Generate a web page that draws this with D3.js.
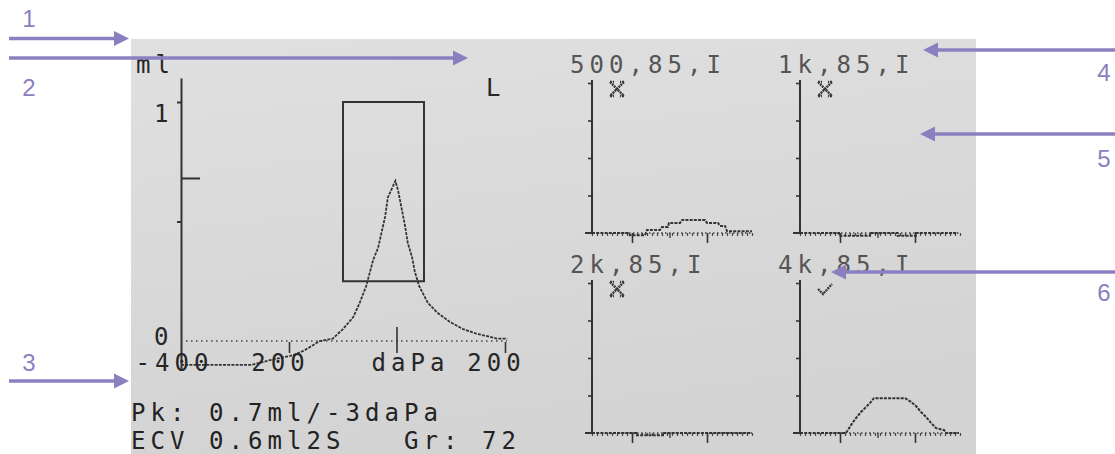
<!DOCTYPE html>
<html lang="en">
<head>
<meta charset="UTF-8" />
<title>Tympanogram and reflex screen</title>
<script src="https://cdn.jsdelivr.net/npm/d3@7"></script>
<style>
  body { margin: 0; background: #fff; }
  .lcd { font-family: "DejaVu Sans Mono", monospace; font-size: 24px; letter-spacing: 5.05px; white-space: pre; }
  .note { font-family: "Liberation Sans", Arial, sans-serif; font-size: 24px; fill: #8a80c0; }
</style>
</head>
<body>
<div id="screen"></div>
<script>
// tympanogram: pressure (daPa) / compliance (ml)
const pressure = [-400, -270, -235, -193, -172, -143, -119, -100, -81, -69, -57, -50, -44, -35, -28, -22, -17, -7, -3,
  2, 9, 15, 20, 28, 33, 41, 57, 74, 98, 122, 148, 167, 185, 204];
const compliance = [-0.1, -0.1, -0.08, -0.06, -0.04, 0.0, 0.01, 0.05, 0.1, 0.16, 0.23, 0.29, 0.34, 0.39, 0.46, 0.52, 0.6, 0.65, 0.67,
  0.63, 0.55, 0.48, 0.41, 0.35, 0.29, 0.23, 0.16, 0.12, 0.08, 0.05, 0.03, 0.02, 0.01, 0.01];
const xTicks = [-400, -200, 0, 200];
const xTickLabels = ["-400", "200", "daPa", "200"];
const yTicks = [0, 1];
const yTickLabels = ["0", "1"];
const boxPressure = [-100, 50];
const boxCompliance = [0.25, 1];
const peakMark = 0.68;
const results = ["Pk: 0.7ml/-3daPa", "ECV 0.6ml2S   Gr: 72"];

// reflex panels
const reflexTitles = ["500,85,I", "1k,85,I", "2k,85,I", "4k,85,I"];
const reflexPass = [false, false, false, true];
const t500 = [0, 7.4, 7.6, 10.6, 11, 13.6, 14, 15.2, 15.4, 17.6, 18, 22.6, 23, 25.2, 25.6, 26.6, 27, 32];
const v500 = [0, 0, -0.06, -0.06, 0.08, 0.08, 0.16, 0.16, 0.27, 0.27, 0.35, 0.35, 0.27, 0.27, 0.19, 0.19, 0.05, 0.05];
const t1k = [0, 7.8, 7.8, 14, 14, 19.5, 19.5, 23.2, 23.2, 31.5];
const v1k = [0, 0, -0.07, -0.07, 0, 0, -0.07, -0.07, 0, 0];
const t2k = [0, 9, 9, 14.2, 14.2, 32];
const v2k = [0, 0, -0.06, -0.06, 0, 0];
const t4k = [0, 9.2, 10.2, 11.2, 12.2, 13.2, 14.2, 14.8, 21, 22.2, 23.2, 24.2, 25.2, 26.2, 27.2, 28.8, 29.2, 31.8];
const v4k = [0, 0, 0.21, 0.4, 0.56, 0.69, 0.83, 0.93, 0.93, 0.83, 0.72, 0.56, 0.43, 0.27, 0.13, 0.08, 0, 0];
const reflexTimes = [t500, t1k, t2k, t4k];
const reflexValues = [v500, v1k, v2k, v4k];
const rulerTicks = d3.range(0, 33);
const stimulusTicks = [8, 23];

const ink = "#333";

const svg = d3.select("#screen")
  .append("svg")
  .attr("width", 1115)
  .attr("height", 454);

// screen background
const grad = svg.append("defs").append("linearGradient")
  .attr("id", "lcd").attr("x1", 0).attr("y1", 0).attr("x2", 0.25).attr("y2", 1);
grad.append("stop").attr("offset", "0%").attr("stop-color", "#e0e0e0");
grad.append("stop").attr("offset", "100%").attr("stop-color", "#d3d3d3");
svg.append("rect")
  .attr("x", 131).attr("y", 39)
  .attr("width", 845).attr("height", 415)
  .attr("fill", "url(#lcd)");

// ---- tympanogram ----
const x = d3.scaleLinear().domain([-400, 200]).range([181, 505]);
const y = d3.scaleLinear().domain([0, 1]).range([341, 102]);
const tymp = svg.append("g");

// y axis
const yAxisScale = y.copy().domain([-0.115, 1.1]).range([y(-0.115), y(1.1)]);
tymp.append("g")
  .attr("transform", `translate(${x(-400)},0)`)
  .call(d3.axisLeft(yAxisScale).tickValues([0.5, 1]).tickSize(4).tickSizeOuter(0).tickFormat(""))
  .call(g => g.selectAll("path,line").attr("stroke", ink).attr("stroke-width", 2));
tymp.append("line")
  .attr("x1", x(-400)).attr("x2", x(-400) + 19)
  .attr("y1", y(peakMark)).attr("y2", y(peakMark))
  .attr("stroke", ink).attr("stroke-width", 2);

// zero line (dotted)
tymp.append("line")
  .attr("x1", x(-400)).attr("x2", x(200) + 2)
  .attr("y1", y(0)).attr("y2", y(0))
  .attr("stroke", "#444").attr("stroke-width", 1.5)
  .attr("stroke-dasharray", "1.5,3.5");

// x ticks
tymp.append("g")
  .attr("transform", `translate(0,${y(0) + 1})`)
  .call(d3.axisBottom(x).tickValues([-200, 200]).tickSize(11).tickFormat(""))
  .call(g => g.select(".domain").remove())
  .call(g => g.selectAll("line").attr("stroke", ink).attr("stroke-width", 1.6));
tymp.append("line")
  .attr("x1", x(0)).attr("x2", x(0))
  .attr("y1", y(0) - 14).attr("y2", y(0) + 12)
  .attr("stroke", ink).attr("stroke-width", 1.6);

// normal range box
tymp.append("rect")
  .attr("x", x(boxPressure[0])).attr("y", y(boxCompliance[1]))
  .attr("width", x(boxPressure[1]) - x(boxPressure[0]))
  .attr("height", y(boxCompliance[0]) - y(boxCompliance[1]))
  .attr("fill", "none").attr("stroke", ink).attr("stroke-width", 2);

// curve
const tympLine = d3.line().x(d => x(d[0])).y(d => y(d[1]));
tymp.append("path")
  .datum(pressure.map((p, i) => [p, compliance[i]]))
  .attr("d", tympLine)
  .attr("fill", "none").attr("stroke", ink).attr("stroke-width", 1.8)
  .attr("stroke-dasharray", "3,1.2");

// labels
const labelShift = [-9, -11, 11, -11];
tymp.selectAll(".xlab")
  .data(xTicks)
  .join("text")
  .attr("class", "lcd")
  .attr("x", (d, i) => x(d) + labelShift[i] + 2.5)
  .attr("y", 371)
  .attr("text-anchor", "middle")
  .attr("fill", "#262626")
  .text((d, i) => xTickLabels[i]);
const yLabelDrop = [4, 20];
tymp.selectAll(".ylab")
  .data(yTicks)
  .join("text")
  .attr("class", "lcd")
  .attr("x", x(-400) - 27)
  .attr("y", (d, i) => y(d) + yLabelDrop[i])
  .attr("fill", "#262626")
  .text((d, i) => yTickLabels[i]);
tymp.append("text").attr("class", "lcd").attr("x", 136).attr("y", 73).attr("fill", "#262626").text("ml");
tymp.append("text").attr("class", "lcd").attr("x", 486).attr("y", 96).attr("fill", "#262626").text("L");
tymp.selectAll(".res")
  .data(results)
  .join("text")
  .attr("class", "lcd")
  .attr("x", 131)
  .attr("y", (d, i) => 421 + i * 28)
  .attr("fill", "#222")
  .text(d => d);

// ---- reflex panels ----
const colX = [592, 800];
const rowBase = [233, 433];

reflexTitles.forEach((title, i) => {
  const x0 = colX[i % 2], base = rowBase[Math.floor(i / 2)];
  const px = d3.scaleLinear().domain([0, 32]).range([x0, x0 + 160]);
  const py = d3.scaleLinear().domain([0, 4]).range([base, base - 150]);
  const g = svg.append("g");

  g.append("text").attr("class", "lcd")
    .attr("x", x0 - 22).attr("y", py(4) - 10)
    .attr("fill", "#555")
    .text(title);

  // y axis
  g.append("line")
    .attr("x1", x0).attr("x2", x0)
    .attr("y1", py(4) - 3).attr("y2", base)
    .attr("stroke", ink).attr("stroke-width", 2);
  g.append("g")
    .attr("transform", `translate(${x0},0)`)
    .call(d3.axisLeft(py).tickValues([1, 2, 3, 4]).tickSize(4).tickFormat(""))
    .call(s => s.select(".domain").remove())
    .call(s => s.selectAll("line").attr("stroke", ink).attr("stroke-width", 1.6));

  // baseline + ruler
  g.append("line")
    .attr("x1", x0 - 7).attr("x2", px(32))
    .attr("y1", base).attr("y2", base)
    .attr("stroke", "#444").attr("stroke-width", 1.5)
    .attr("stroke-dasharray", "1.5,2.5");
  g.append("line")
    .attr("x1", x0 - 7).attr("x2", x0)
    .attr("y1", base).attr("y2", base)
    .attr("stroke", ink).attr("stroke-width", 2);
  g.append("g")
    .attr("transform", `translate(0,${base})`)
    .call(d3.axisBottom(px).tickValues(rulerTicks).tickSize(3).tickFormat(""))
    .call(s => s.select(".domain").remove())
    .call(s => s.selectAll("line").attr("stroke", "#444").attr("stroke-width", 1.2));
  g.append("g")
    .attr("transform", `translate(0,${base})`)
    .call(d3.axisBottom(px).tickValues(stimulusTicks).tickSize(10).tickFormat(""))
    .call(s => s.select(".domain").remove())
    .call(s => s.selectAll("line").attr("stroke", ink).attr("stroke-width", 1.6));
  g.append("g")
    .attr("transform", `translate(0,${base})`)
    .call(d3.axisBottom(px).tickValues([15.5]).tickSize(5).tickFormat(""))
    .call(s => s.select(".domain").remove())
    .call(s => s.selectAll("line").attr("stroke", "#444").attr("stroke-width", 1.4));

  // curve
  const line = d3.line().x(d => px(d[0])).y(d => py(d[1]));
  g.append("path")
    .datum(reflexTimes[i].map((t, k) => [t, reflexValues[i][k]]))
    .attr("d", line)
    .attr("fill", "none").attr("stroke", ink).attr("stroke-width", 2)
    .attr("stroke-dasharray", "3,1.2");

  // result mark
  const cx = x0 + 25, cy = py(4) + 6;
  const mark = g.append("path")
    .attr("fill", "none").attr("stroke", "#3a3a3a").attr("stroke-width", 2.4)
    .attr("stroke-dasharray", "2,0.8");
  if (reflexPass[i]) {
    mark.attr("d", `M${cx - 7},${cy} L${cx - 2},${cy + 5} L${cx + 7},${cy - 5}`);
  } else {
    mark.attr("d", `M${cx - 7},${cy - 7} L${cx + 7},${cy + 7} M${cx + 7},${cy - 7} L${cx - 7},${cy + 7}` +
      `M${cx - 7},${cy - 7} h4 M${cx + 7},${cy - 7} h-4 M${cx - 7},${cy + 7} h4 M${cx + 7},${cy + 7} h-4`);
  }
});

// ---- callouts ----
const callouts = [
  { n: "1", lx: 29, ly: 18, x1: 9, x2: 129, y: 38.5 },
  { n: "2", lx: 29, ly: 87, x1: 9, x2: 468, y: 58 },
  { n: "3", lx: 29, ly: 362, x1: 9, x2: 129, y: 381 },
  { n: "4", lx: 1104, ly: 72, x1: 1115, x2: 923, y: 50 },
  { n: "5", lx: 1104, ly: 158, x1: 1115, x2: 920, y: 134 },
  { n: "6", lx: 1104, ly: 292, x1: 1115, x2: 831, y: 272 }
];
const purple = "#8a80c0";
callouts.forEach(c => {
  const dir = c.x2 > c.x1 ? 1 : -1;
  svg.append("line")
    .attr("x1", c.x1).attr("x2", c.x2 - dir * 12)
    .attr("y1", c.y).attr("y2", c.y)
    .attr("stroke", purple).attr("stroke-width", 3.4);
  svg.append("path")
    .attr("d", `M${c.x2},${c.y} L${c.x2 - dir * 15},${c.y - 7.5} L${c.x2 - dir * 15},${c.y + 7.5}Z`)
    .attr("fill", purple);
  svg.append("text")
    .attr("class", "note")
    .attr("x", c.lx).attr("y", c.ly)
    .attr("text-anchor", "middle")
    .attr("dominant-baseline", "central")
    .text(c.n);
});
</script>
</body>
</html>
